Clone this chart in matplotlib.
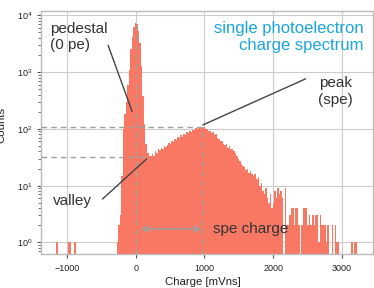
import matplotlib
matplotlib.use('Agg')
import numpy as np
import matplotlib.pyplot as plt

plt.rcParams['font.family'] = ['Liberation Sans', 'DejaVu Sans']
plt.rcParams['mathtext.fontset'] = 'custom'
plt.rcParams['mathtext.rm'] = 'Liberation Sans'
plt.rcParams['mathtext.it'] = 'Liberation Sans'

# histogram binning (mV ns)
BIN_START = -1155
BIN_WIDTH = 22
# counts per bin
counts = [
  1, 0, 0, 0, 0, 0, 0, 0, 1, 1,
  0, 0, 1, 0, 0, 0, 0, 0, 0, 0,
  0, 0, 0, 0, 0, 0, 0, 0, 0, 0,
  0, 0, 0, 0, 0, 0, 0, 0, 0, 0,
  1, 2, 3, 15, 100, 180, 300, 600, 1100, 2500,
  4200, 6200, 7400, 6900, 5200, 3200, 1300, 380, 120, 55,
  38, 33, 33, 36, 34, 41, 38, 44, 42, 47,
  45, 51, 48, 53, 57, 54, 61, 58, 66, 63,
  71, 68, 77, 73, 82, 79, 87, 84, 93, 88,
  97, 94, 103, 99, 108, 110, 104, 107, 98, 100,
  90, 93, 84, 87, 78, 80, 70, 66, 60, 62,
  55, 52, 54, 47, 49, 44, 45, 40, 38, 33,
  30, 27, 24, 22, 21, 19, 20, 17, 18, 16,
  15, 16, 13, 14, 10, 11, 8, 7, 9, 6,
  5, 7, 4, 5, 8, 6, 9, 7, 8, 6,
  0, 9, 2, 2, 3, 4, 4, 2, 4, 4,
  2, 0, 2, 4, 4, 4, 2, 3, 2, 3,
  2, 3, 3, 1, 3, 2, 2, 2, 1, 2,
  0, 0, 2, 0, 2, 1, 1, 0, 0, 0,
  0, 0, 0, 0, 0, 1, 0, 1, 1, 0,
]

pedestal_pos = 0
pedestal_height = 7400
spe_pos = 960
spe_height = 108
valley_pos = 190
valley_height = 32

edges = BIN_START + BIN_WIDTH * np.arange(len(counts) + 1)
centers = 0.5 * (edges[:-1] + edges[1:])

fig = plt.figure(figsize=(3.74, 2.88), dpi=100)
ax = fig.add_axes([0.1088, 0.1191, 0.8877, 0.8427])

ax.hist(centers, bins=edges, weights=counts, histtype='stepfilled',
        color='#f97863', log=True, zorder=2)

ax.set_xlim(-1380, 3445)
ax.set_ylim(0.635, 11900)
ax.set_xticks([-1000, 0, 1000, 2000, 3000])
ax.grid(True, which='major', color='#cccccc', linewidth=0.8, zorder=0)
ax.set_axisbelow(True)
for s in ax.spines.values():
  s.set_color('#bbbbbb')
  s.set_linewidth(1.0)
ax.tick_params(which='both', direction='out', color='#555555', labelsize=6.5,
               labelcolor='#222222')
ax.tick_params(which='major', length=3, width=0.8)
ax.tick_params(which='minor', length=2, width=0.6)
ax.tick_params(axis='x', pad=4.5)
ax.tick_params(axis='y', pad=3)

ax.set_xlabel('Charge [mVns]', fontsize=8.2, color='#222222')
ax.set_ylabel('Counts', fontsize=8.2, color='#222222')
ax.xaxis.set_label_coords(0.49, -0.095)
ax.yaxis.set_label_coords(-0.103, 0.53)

dash = dict(color='#a0a0a0', linestyle=(0, (4, 3)), linewidth=1.0, zorder=3)
xmin = ax.get_xlim()[0]
ymin = ax.get_ylim()[0]
ax.plot([xmin, spe_pos], [spe_height, spe_height], **dash)
ax.plot([xmin, valley_pos], [valley_height, valley_height], **dash)
ax.plot([pedestal_pos, pedestal_pos], [ymin, pedestal_height], **dash)
ax.plot([spe_pos, spe_pos], [ymin, spe_height], **dash)

txt = '#333333'
ax.text(0.028, 0.955, 'pedestal\n(0 pe)', transform=ax.transAxes,
        ha='left', va='top', fontsize=11, color=txt, linespacing=1.2)
ax.annotate('', xy=(-38, 183), xytext=(-414, 3290),
            arrowprops=dict(arrowstyle='-', color='#444444', lw=1.0))

ax.text(2905, 455, 'peak\n(spe)', ha='center', va='center',
        fontsize=11, color=txt, linespacing=1.2)
ax.annotate('', xy=(spe_pos - 20, 112), xytext=(2507, 797),
            arrowprops=dict(arrowstyle='-', color='#444444', lw=1.0))

ax.text(-1202, 5.4, 'valley', ha='left', va='center', fontsize=11, color=txt)
ax.annotate('', xy=(valley_pos, valley_height), xytext=(-512, 5.4),
            arrowprops=dict(arrowstyle='-', color='#444444', lw=1.0))

ax.annotate('', xy=(75, 1.73), xytext=(spe_pos, 1.73),
            arrowprops=dict(arrowstyle='<->', color='#a0a0a0', lw=1.2,
                            shrinkA=0, shrinkB=0))
ax.text(1122, 1.73, 'spe charge', ha='left', va='center', fontsize=11,
        color=txt)

ax.text(0.972, 0.958, 'single photoelectron\ncharge spectrum',
        transform=ax.transAxes, ha='right', va='top', fontsize=12,
        color='#1ba6dc', linespacing=1.15)

plt.savefig('out.png', dpi=100)
